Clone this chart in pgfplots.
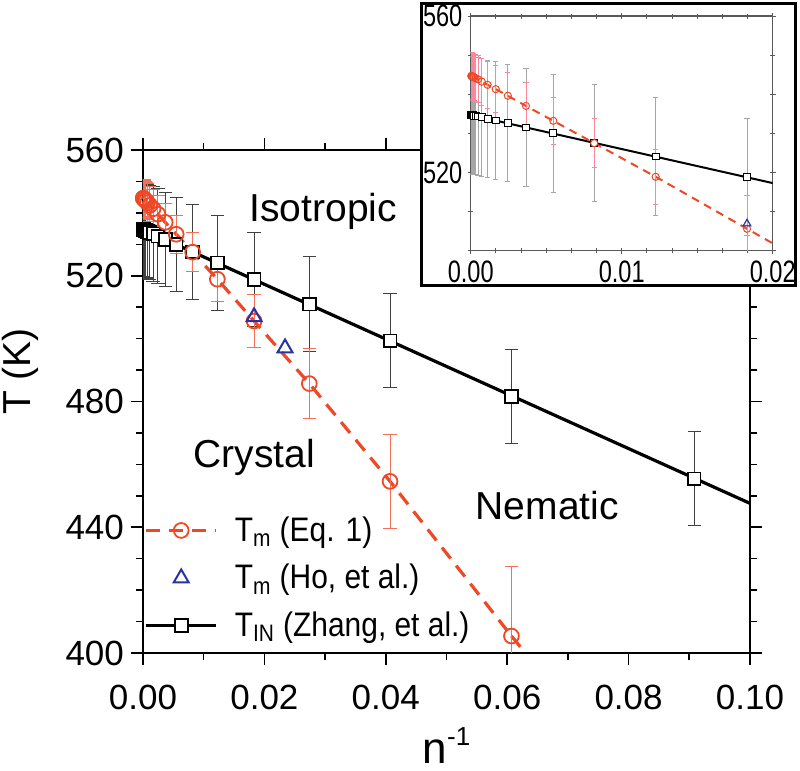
\documentclass[border=0pt]{standalone}
\usepackage{fontspec}
\setmainfont{Liberation Sans}
\usepackage{graphicx}
\usepackage{pgfplots}
\usepackage{pgfplotstable}
\pgfplotsset{compat=1.18}

\definecolor{tmred}{RGB}{238,72,38}
\definecolor{barred}{RGB}{242,112,88}
\definecolor{pinkbar}{RGB}{250,135,155}
\definecolor{hoblue}{RGB}{40,50,165}

% T_m from Eq. 1: n^-1, T, error
\pgfplotstableread{
x T err
0.00004 544.7 6
0.00007 544.6 6
0.0001 544.6 6
0.00015 544.5 6
0.00022 544.3 6
0.00033 544.1 6
0.00049 543.8 6
0.00074 543.2 6
0.00112 542.4 6
0.00166 541.3 6
0.00246 539.6 6
0.00366 537.0 6
0.00547 533.2 6
0.00818 527.5 6.3
0.01225 518.9 7
0.0183 505.6 8.5
0.0274 485.7 11
0.0407 454.6 15
0.0607 405.4 22
}\tmeq

% T_IN (Zhang et al.)
\pgfplotstableread{
x T err
0.00004 534.7 15
0.00007 534.7 15
0.0001 534.6 15
0.00015 534.6 15
0.00022 534.5 15
0.00033 534.4 15
0.00049 534.3 15
0.00074 534.1 15
0.00112 533.7 15
0.00166 533.3 15
0.00246 532.6 15
0.00366 531.5 15
0.00547 530.0 15
0.00818 527.6 15
0.01225 524.1 15
0.0183 518.8 15
0.0274 511.0 15
0.0407 499.3 15
0.0607 481.6 15
0.0908 455.4 15
}\tin

% T_m (Ho et al.)
\pgfplotstableread{
x T
0.0183 506.9
0.0234 497.0
}\tho

% longer legend lines
\pgfplotsset{
  every axis plot post/.append style={
    legend image code/.code={\draw[mark repeat=2,mark phase=2,##1] plot coordinates {(0pt,0pt) (17.5pt,0pt) (35pt,0pt)};}},
}

\begin{document}
\begin{tikzpicture}
\useasboundingbox (-71.5pt,-59pt) rectangle (328.5pt,326.5pt);

\begin{axis}[
  scale only axis, width=303.5pt, height=251.5pt,
  xmin=0, xmax=0.1, ymin=400, ymax=560,
  xtick={0,0.02,0.04,0.06,0.08,0.1}, ytick={400,440,480,520,560},
  minor x tick num=1, minor y tick num=3,
  tick align=outside, major tick length=6pt, minor tick length=3.5pt,
  axis line style={line width=1pt},
  every tick/.style={black, line width=0.8pt},
  tick label style={font=\fontsize{17.5}{19}\selectfont},
  /pgf/number format/assume math mode=true,
  scaled x ticks=false,
  xticklabel style={yshift=-6.5pt, /pgf/number format/.cd, fixed, fixed zerofill, precision=2},
  yticklabel style={/pgf/number format/.cd, fixed, precision=0},
  xlabel={n\raisebox{9pt}{\fontsize{13}{14}\selectfont -1}}, ylabel={T (K)},
  xlabel style={font=\fontsize{22}{24}\selectfont, inner sep=0pt, at={(axis description cs:0.5,-0.2187)}, anchor=base},
  ylabel style={font=\fontsize{19.5}{22}\selectfont, at={(axis description cs:-0.2026,0.56)}, anchor=center},
  legend cell align=left,
  legend style={at={(axis description cs:0.002,0.018)}, anchor=south west,
    draw=none, fill=none, inner sep=0pt, row sep=6pt,
    nodes={inner sep=2pt},
    /tikz/every odd column/.append style={column sep=6.5pt},
    font=\fontsize{17}{19}\selectfont},
]
% T_IN fit line
\addplot[black, line width=1.6pt, forget plot] coordinates {(0,534.7) (0.1,447.6)};
\addplot[only marks, mark=square*, mark size=3.2pt,
  mark options={fill=white, draw=black, line width=0.9pt}, forget plot,
  error bars/.cd, y dir=both, y explicit,
  error bar style={line width=0.5pt, black!75},
  error mark options={rotate=90, mark size=3.3pt, line width=0.5pt, black!75}]
  table[x=x, y=T, y error=err]{\tin};
% T_m Eq. 1
\addplot[tmred, line width=1.6pt, dash pattern=on 7pt off 4.5pt, forget plot]
  table[x=x, y=T]{\tmeq};
\addplot[tmred, line width=1.6pt, dash pattern=on 7pt off 4.5pt, forget plot]
  coordinates {(0.0607,405.4) (0.0635,398.8)};
\addplot[only marks, mark=o, mark size=3.7pt,
  mark options={tmred, line width=0.9pt}, forget plot,
  error bars/.cd, y dir=both, y explicit,
  error bar style={line width=0.5pt, barred},
  error mark options={rotate=90, mark size=3.3pt, line width=0.5pt, barred}]
  table[x=x, y=T, y error=err]{\tmeq};
% T_m Ho
\addplot[only marks, mark=triangle, mark size=4.3pt,
  mark options={hoblue, line width=1pt}, forget plot]
  table[x=x, y=T]{\tho};

\addlegendimage{tmred, line width=1.6pt, dash pattern=on 7pt off 4.5pt, mark=o, mark size=3.7pt, mark options={solid, line width=0.9pt}}
\addlegendentry{\scalebox{0.88}[1]{T\textsubscript{m} (Eq. 1)}}
\addlegendimage{only marks, mark=triangle, mark size=4.3pt, mark options={hoblue, line width=1pt}}
\addlegendentry{\scalebox{0.88}[1]{T\textsubscript{m} (Ho, et al.)}}
\addlegendimage{black, line width=1.6pt, mark=square*, mark size=3.2pt, mark options={fill=white, line width=0.9pt}}
\addlegendentry{\scalebox{0.88}[1]{T\textsubscript{IN} (Zhang, et al.)}}

\node[font=\fontsize{19.5}{22}\selectfont, anchor=base] at (axis cs:0.0297,537.1) {Isotropic};
\node[font=\fontsize{19.5}{22}\selectfont, anchor=base] at (axis cs:0.0183,458.9) {Crystal};
\node[font=\fontsize{19.5}{22}\selectfont, anchor=base] at (axis cs:0.0666,442.4) {Nematic};
\end{axis}

% inset frame
\filldraw[fill=white, draw=black, line width=1.6pt] (139.25pt,183.75pt) rectangle (326.25pt,324.75pt);

\begin{axis}[
  at={(163.85pt,201.15pt)}, anchor=south west,
  scale only axis, width=151pt, height=117.35pt,
  xmin=0, xmax=0.02, ymin=500, ymax=560,
  xtick={0,0.01,0.02}, ytick={500,520,540,560}, yticklabels={,520,,560},
  minor x tick num=5, minor y tick num=1,
  tick align=center, major tick length=3pt, minor tick length=2.5pt,
  axis line style={gray!70!black, line width=0.6pt},
  every tick/.style={gray!70!black, line width=0.5pt},
  tick label style={font=\fontsize{15.5}{17}\selectfont, xscale=0.76},
  /pgf/number format/assume math mode=true,
  scaled x ticks=false,
  xticklabel style={/pgf/number format/.cd, fixed, fixed zerofill, precision=2},
  axis background/.style={fill=white},
]
\addplot[black, line width=1pt] coordinates {(0,534.7) (0.1,447.6)};
\addplot[only marks, mark=square*, mark size=1.7pt,
  mark options={fill=white, draw=black, line width=0.5pt},
  error bars/.cd, y dir=both, y explicit,
  error bar style={line width=0.4pt, gray!70},
  error mark options={rotate=90, mark size=1.3pt, line width=0.4pt, gray!70}]
  table[x=x, y=T, y error=err]{\tin};
\addplot[tmred, line width=1pt, dash pattern=on 4pt off 3pt]
  table[x=x, y=T]{\tmeq};
\addplot[only marks, mark=o, mark size=1.8pt,
  mark options={tmred, line width=0.5pt},
  error bars/.cd, y dir=both, y explicit,
  error bar style={line width=0.4pt, pinkbar},
  error mark options={rotate=90, mark size=1.3pt, line width=0.4pt, pinkbar}]
  table[x=x, y=T, y error=err]{\tmeq};
\addplot[only marks, mark=triangle, mark size=2.2pt,
  mark options={hoblue, line width=0.6pt}]
  table[x=x, y=T]{\tho};
\end{axis}
\end{tikzpicture}
\end{document}
